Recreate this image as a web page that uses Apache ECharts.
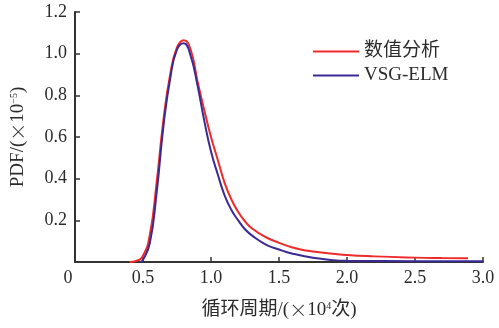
<!DOCTYPE html>
<html>
<head>
<meta charset="utf-8">
<script src="https://cdn.jsdelivr.net/npm/echarts@6/dist/echarts.min.js"></script>
<style>
  html, body { margin: 0; padding: 0; background: #fff; }
  #chart { width: 499px; height: 328px; }
</style>
</head>
<body>
<div id="chart"></div>
<script>
// 数值分析 (red) — [循环周期, PDF]
const numericData = [
  [0.40, 0.0], [0.45, 0.005], [0.50, 0.03], [0.55, 0.13], [0.60, 0.38], [0.65, 0.68],
  [0.70, 0.90], [0.75, 1.03], [0.80, 1.065], [0.85, 1.02], [0.90, 0.87], [0.95, 0.73],
  [1.00, 0.60], [1.05, 0.49], [1.10, 0.38], [1.15, 0.30], [1.20, 0.24], [1.25, 0.195],
  [1.30, 0.162], [1.40, 0.12], [1.50, 0.092], [1.60, 0.07], [1.75, 0.05], [2.00, 0.034],
  [2.20, 0.027], [2.50, 0.021], [2.70, 0.019], [2.89, 0.018]
]
// VSG-ELM (blue)
const vsgData = [
  [0.48, 0.0], [0.50, 0.01], [0.55, 0.09], [0.60, 0.33], [0.65, 0.65], [0.70, 0.88],
  [0.75, 1.02], [0.80, 1.05], [0.85, 0.99], [0.90, 0.85], [0.95, 0.68], [1.00, 0.53],
  [1.05, 0.42], [1.10, 0.32], [1.15, 0.25], [1.20, 0.20], [1.25, 0.157], [1.30, 0.128],
  [1.40, 0.085], [1.50, 0.06], [1.60, 0.04], [1.75, 0.02], [1.90, 0.009], [2.00, 0.006],
  [2.50, 0.004], [3.00, 0.004]
]
const seriesNames = ['数值分析', 'VSG-ELM']

const font = '"Liberation Serif", "Times New Roman", "Noto Sans CJK SC", serif'
const cjk = '"Noto Sans CJK SC", sans-serif'
const textColor = '#2b2b2b'
const axisColor = '#333'

const richName = {
  sup: { fontSize: 10, verticalAlign: 'top', padding: [0, 0, 9, 0], fontFamily: font, color: textColor },
  x: { fontSize: 18, fontFamily: cjk, fontWeight: 300, color: textColor }
}

const chart = echarts.init(document.getElementById('chart'))

chart.setOption({
  animation: false,
  backgroundColor: '#fff',
  grid: { left: 75, right: 16, top: 12, bottom: 66 },
  legend: {
    orient: 'vertical',
    left: 308,
    top: 37,
    icon: 'rect',
    itemWidth: 46,
    itemHeight: 2,
    itemGap: 5,
    textStyle: { fontFamily: font, fontSize: 19, color: textColor },
    data: seriesNames
  },
  xAxis: {
    type: 'value',
    min: 0,
    max: 3,
    interval: 0.5,
    name: '循环周期/({x|×}10{sup|4}次)',
    nameLocation: 'middle',
    nameGap: 39,
    nameTextStyle: { fontFamily: font, fontSize: 19, color: textColor, rich: richName },
    axisLine: { lineStyle: { color: axisColor, width: 2 } },
    axisTick: { inside: true, length: 5, lineStyle: { color: axisColor, width: 1.5 } },
    splitLine: { show: false },
    axisLabel: {
      fontFamily: font, fontSize: 18, color: textColor, margin: 7,
      formatter: v => v === 0 ? '{z|0}' : v.toFixed(1),
      rich: { z: { fontFamily: font, fontSize: 18, color: textColor, padding: [0, 14, 0, 0] } }
    }
  },
  yAxis: {
    type: 'value',
    min: 0,
    max: 1.2,
    interval: 0.2,
    name: 'PDF/({x|×}10{sup|−5})',
    nameLocation: 'middle',
    nameGap: 47,
    nameTextStyle: { fontFamily: font, fontSize: 19, color: textColor, rich: richName },
    axisLine: { show: true, lineStyle: { color: axisColor, width: 2 } },
    axisTick: { show: true, inside: true, length: 5, lineStyle: { color: axisColor, width: 1.5 } },
    splitLine: { show: false },
    axisLabel: {
      fontFamily: font, fontSize: 18, color: textColor, margin: 8,
      formatter: v => v === 0 ? '' : v.toFixed(1)
    }
  },
  series: [
    {
      name: seriesNames[0],
      type: 'line',
      data: numericData,
      smooth: 0.5,
      symbol: 'none',
      lineStyle: { color: '#ee2a2a', width: 2 },
      itemStyle: { color: '#ee2a2a' },
      z: 2
    },
    {
      name: seriesNames[1],
      type: 'line',
      data: vsgData,
      smooth: 0.5,
      symbol: 'none',
      lineStyle: { color: '#3a2b94', width: 2 },
      itemStyle: { color: '#3a2b94' },
      z: 3
    }
  ]
})
</script>
</body>
</html>
